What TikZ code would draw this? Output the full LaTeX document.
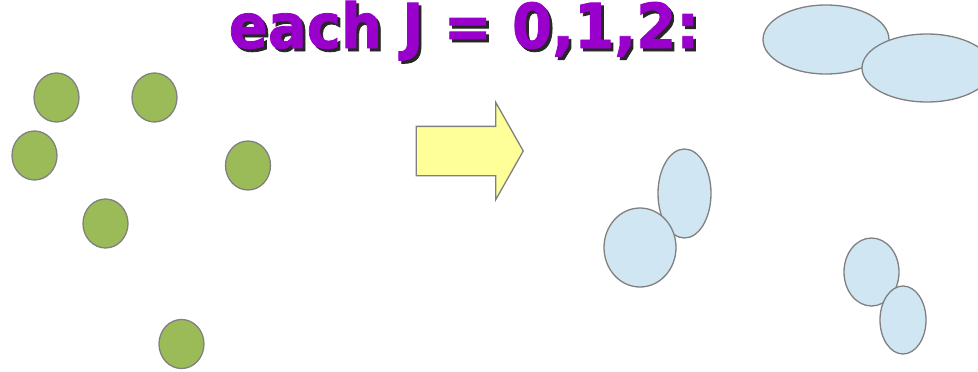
\documentclass[tikz,border=0pt]{standalone}
\usepackage{fontspec}
\newfontfamily\titlefont{DejaVu Sans}[BoldFeatures={FakeBold=1.3}]
\usetikzlibrary{shapes.geometric, shapes.arrows}

\definecolor{leafgreen}{HTML}{9BBB59}
\definecolor{paleblue}{HTML}{D0E6F3}
\definecolor{paleyellow}{HTML}{FFFF99}
\definecolor{titlepurple}{HTML}{9900CC}

% text with a dark drop shadow
\newcommand{\shadowtext}[1]{%
  \rlap{\kern3pt\raisebox{-3pt}{\color{black!85}#1}}{\color{titlepurple}#1}}

\begin{document}
\begin{tikzpicture}[x=1pt, y=-1pt,
  dot/.style={draw=black!50, line width=1.3pt, fill=leafgreen, ellipse,
              minimum width=45pt, minimum height=49pt, inner sep=0pt},
  blob/.style={draw=black!50, line width=1.3pt, fill=paleblue, ellipse,
               inner sep=0pt},
  bigarrow/.style={draw=black!50, line width=1.3pt, fill=paleyellow,
                   single arrow, single arrow head extend=24pt,
                   single arrow tip angle=121, inner xsep=0pt,
                   inner ysep=24pt, minimum height=107pt},
  ttl/.style={font=\titlefont\bfseries\fontsize{62}{70}\selectfont,
              anchor=base, inner sep=0pt}]

  \clip (0,0) rectangle (978,372);

  \node[ttl] (title) at (464,48)
    {\scalebox{0.93}[1]{\shadowtext{each J = 0,1,2:}}};

  % points before clustering
  \node[dot] (p1) at (56.5,97.5) {};
  \node[dot] (p2) at (154.5,97.5) {};
  \node[dot] (p3) at (34.5,155.5) {};
  \node[dot] (p4) at (248,165.5) {};
  \node[dot] (p5) at (105.5,223.5) {};
  \node[dot] (p6) at (181.5,344) {};

  \node[bigarrow, anchor=tip] (step) at (524,151) {};

  % clusters
  \node[blob, minimum width=126pt, minimum height=69pt] (c1) at (826,39.5) {};
  \node[blob, minimum width=130pt, minimum height=68pt] (c2) at (927,68) {};
  \node[blob, minimum width=53pt, minimum height=89pt] (c3) at (684.5,193.5) {};
  \node[blob, minimum width=72pt, minimum height=79pt] (c4) at (640,247.5) {};
  \node[blob, minimum width=55pt, minimum height=68pt] (c5) at (871.5,272) {};
  \node[blob, minimum width=46pt, minimum height=68pt] (c6) at (903,320) {};
\end{tikzpicture}
\end{document}
